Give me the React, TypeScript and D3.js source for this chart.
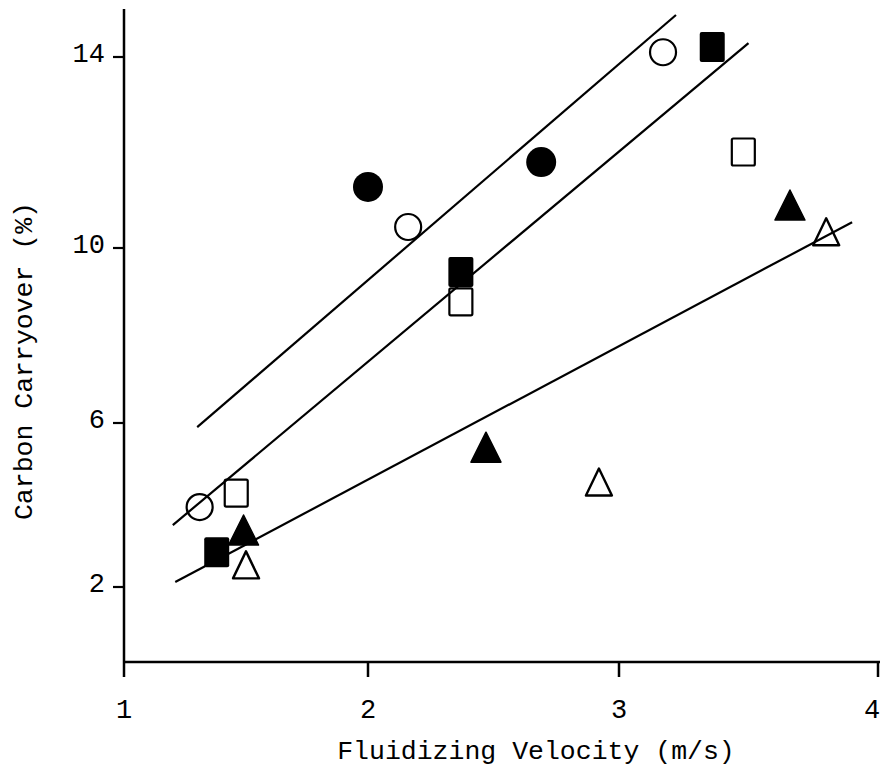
import React from "react";
import * as d3 from "d3";

// ---- data ----
const xTicks = [1, 2, 3, 4];
const yTicks = [2, 6, 10, 14];

const openCircleX = [1.31, 2.16, 3.17];
const openCircleY = [3.95, 10.44, 14.1];
const filledCircleX = [2.0, 2.69];
const filledCircleY = [11.28, 11.8];
const filledSquareX = [1.38, 2.37, 3.36];
const filledSquareY = [2.85, 9.45, 14.21];
const openSquareX = [1.46, 2.37, 3.48];
const openSquareY = [4.29, 8.77, 12.01];
const filledTriangleX = [1.49, 2.47, 3.66];
const filledTriangleY = [3.39, 5.41, 10.9];
const openTriangleX = [1.5, 2.92, 3.8];
const openTriangleY = [2.54, 4.56, 10.34];

const fitLine1: [number, number][] = [[1.3, 5.9], [3.22, 14.88]];
const fitLine2: [number, number][] = [[1.2, 3.51], [3.5, 14.29]];
const fitLine3: [number, number][] = [[1.21, 2.12], [3.9, 10.54]];

const xTitle = "Fluidizing Velocity (m/s)";
const yTitle = "Carbon Carryover (%)";

const W = 882;
const H = 773;
const FONT = "'Liberation Mono', 'Courier New', Courier, monospace";

export default function App() {
  // piecewise scales follow the (slightly uneven) scanned axis
  const x = d3.scaleLinear().domain(xTicks).range([124, 368, 619, 878]);
  const y = d3.scaleLinear().domain(yTicks).range([587, 423, 248, 57]);

  const axisLeft = 124;
  const axisBottom = 662;
  const axisTop = 9;
  const axisRight = 880;

  const line = d3
    .line<[number, number]>()
    .x((d) => x(d[0]))
    .y((d) => y(d[1]));

  const tri = (cx: number, cy: number, w: number, h: number) =>
    `M${cx},${cy - h / 2}L${cx + w / 2},${cy + h / 2}L${cx - w / 2},${cy + h / 2}Z`;

  return (
    <svg
      width={W}
      height={H}
      style={{ position: "absolute", left: 0, top: 0, background: "#fff" }}
    >
      <rect x={0} y={0} width={W} height={H} fill="#fff" />
      {/* axes */}
      <line x1={axisLeft} y1={axisTop} x2={axisLeft} y2={axisBottom} stroke="#000" strokeWidth={2.5} />
      <line x1={axisLeft} y1={axisBottom} x2={axisRight} y2={axisBottom} stroke="#000" strokeWidth={2.5} />

      {/* x ticks */}
      {xTicks.map((t) => (
        <g key={"xt" + t}>
          <line x1={x(t)} y1={axisBottom} x2={x(t)} y2={axisBottom + 15} stroke="#000" strokeWidth={2.5} />
          <text
            x={Math.min(x(t), W - 10)}
            y={718}
            textAnchor="middle"
            fontFamily={FONT}
            fontSize={27}
            fill="#000"
          >
            {t}
          </text>
        </g>
      ))}

      {/* y ticks */}
      {yTicks.map((t) => (
        <g key={"yt" + t}>
          <line x1={axisLeft - 11} y1={y(t)} x2={axisLeft} y2={y(t)} stroke="#000" strokeWidth={2.2} />
          <text
            x={105}
            y={y(t) + 5}
            textAnchor="end"
            fontFamily={FONT}
            fontSize={27}
            fill="#000"
          >
            {t}
          </text>
        </g>
      ))}

      {/* titles */}
      <text
        x={536}
        y={759}
        textAnchor="middle"
        fontFamily={FONT}
        fontSize={26.5}
        fill="#000"
      >
        {xTitle}
      </text>
      <text
        transform={`translate(32,361) rotate(-90)`}
        textAnchor="middle"
        fontFamily={FONT}
        fontSize={26.5}
        fill="#000"
      >
        {yTitle}
      </text>

      {/* fitted lines */}
      {[fitLine1, fitLine2, fitLine3].map((l, i) => (
        <path key={"l" + i} d={line(l) || ""} fill="none" stroke="#000" strokeWidth={2.2} />
      ))}

      {/* open circles */}
      {openCircleX.map((v, i) => (
        <circle key={"oc" + i} cx={x(v)} cy={y(openCircleY[i])} r={13} fill="none" stroke="#000" strokeWidth={2.2} />
      ))}
      {/* filled circles */}
      {filledCircleX.map((v, i) => (
        <circle key={"fc" + i} cx={x(v)} cy={y(filledCircleY[i])} r={15} fill="#000" />
      ))}
      {/* filled squares */}
      {filledSquareX.map((v, i) => (
        <rect key={"fs" + i} x={x(v) - 12.5} y={y(filledSquareY[i]) - 15} width={25} height={30} rx={2} fill="#000" />
      ))}
      {/* open squares */}
      {openSquareX.map((v, i) => (
        <rect
          key={"os" + i}
          x={x(v) - 11.5}
          y={y(openSquareY[i]) - 13.5}
          width={23}
          height={27}
          rx={1.5}
          fill="none"
          stroke="#000"
          strokeWidth={2.2}
        />
      ))}
      {/* filled triangles */}
      {filledTriangleX.map((v, i) => (
        <path key={"ft" + i} d={tri(x(v), y(filledTriangleY[i]), 30, 30)} fill="#000" stroke="#000" strokeWidth={1.5} strokeLinejoin="round" />
      ))}
      {/* open triangles */}
      {openTriangleX.map((v, i) => (
        <path
          key={"ot" + i}
          d={tri(x(v), y(openTriangleY[i]), 26, 27)}
          fill="none"
          stroke="#000"
          strokeWidth={2.4}
          strokeLinejoin="round"
        />
      ))}
    </svg>
  );
}
